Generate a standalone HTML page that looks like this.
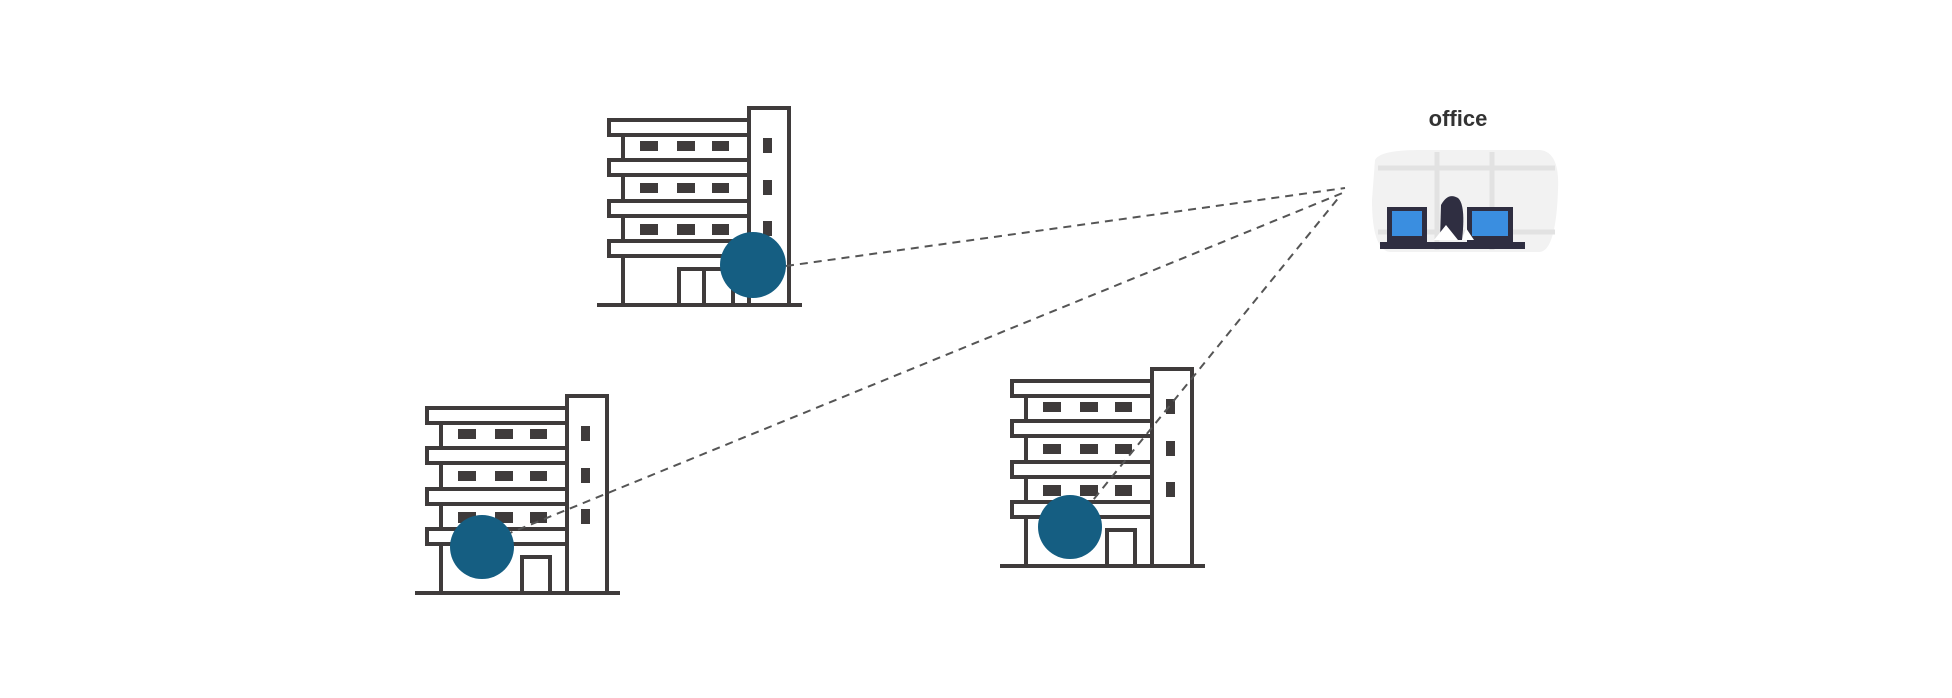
<!DOCTYPE html>
<html><head><meta charset="utf-8"><style>
html,body{margin:0;padding:0;background:#fff;}
svg{display:block}
</style></head><body>
<svg width="1952" height="698" viewBox="0 0 1952 698" xmlns="http://www.w3.org/2000/svg">
<defs>
<g id="bld" fill="none" stroke="#3f3b3b" stroke-width="4">
  <line x1="0" y1="199" x2="205" y2="199"/>
  <rect x="152" y="2" width="40" height="197" fill="#fff"/>
  <line x1="26" y1="29" x2="26" y2="199"/>
  <rect x="12" y="14" width="140" height="15" fill="#fff"/>
  <rect x="12" y="54" width="140" height="15" fill="#fff"/>
  <rect x="12" y="95" width="140" height="15" fill="#fff"/>
  <rect x="12" y="135" width="140" height="15" fill="#fff"/>
  <g fill="#3f3b3b" stroke="none">
    <rect x="43" y="35" width="18" height="10"/><rect x="80" y="35" width="18" height="10"/><rect x="115" y="35" width="17" height="10"/>
    <rect x="43" y="77" width="18" height="10"/><rect x="80" y="77" width="18" height="10"/><rect x="115" y="77" width="17" height="10"/>
    <rect x="43" y="118" width="18" height="11"/><rect x="80" y="118" width="18" height="11"/><rect x="115" y="118" width="17" height="11"/>
    <rect x="166" y="32" width="9" height="15"/><rect x="166" y="74" width="9" height="15"/><rect x="166" y="115" width="9" height="15"/>
  </g>
</g>
</defs>
<!-- building 1 -->
<g transform="translate(597,106)">
  <use href="#bld"/>
  <g fill="none" stroke="#3f3b3b" stroke-width="4"><rect x="82" y="163" width="54" height="36"/><line x1="107" y1="163" x2="107" y2="199"/></g>
</g>
<!-- building 2 -->
<g transform="translate(415,394)">
  <use href="#bld"/>
  <g fill="none" stroke="#3f3b3b" stroke-width="4"><rect x="107" y="163" width="28" height="36"/></g>
</g>
<!-- building 3 -->
<g transform="translate(1000,367)">
  <use href="#bld"/>
  <g fill="none" stroke="#3f3b3b" stroke-width="4"><rect x="107" y="163" width="28" height="36"/></g>
</g>
<!-- dashed lines -->
<g stroke="#555" stroke-width="2" stroke-dasharray="8,6" fill="none">
  <line x1="786" y1="266" x2="1345" y2="188"/>
  <line x1="505" y1="535" x2="1345" y2="192"/>
  <line x1="1085" y1="510" x2="1340" y2="196"/>
</g>
<!-- circles -->
<g fill="#155e82">
  <circle cx="753" cy="265" r="33"/>
  <circle cx="482" cy="547" r="32"/>
  <circle cx="1070" cy="527" r="32"/>
</g>
<!-- office -->
<text x="1458" y="126" font-family="Liberation Sans, sans-serif" font-weight="bold" font-size="22" fill="#333" text-anchor="middle">office</text>
<g>
  <path d="M1375 160 Q1380 150 1420 150 L1540 150 Q1560 152 1558 190 Q1556 250 1540 252 L1390 252 Q1372 250 1372 200 Z" fill="#f2f2f2"/>
  <g stroke="#e2e2e2" stroke-width="5">
    <line x1="1378" y1="168" x2="1555" y2="168"/>
    <line x1="1437" y1="152" x2="1437" y2="250"/>
    <line x1="1492" y1="152" x2="1492" y2="250"/>
    <line x1="1378" y1="232" x2="1555" y2="232"/>
  </g>
  <rect x="1387" y="207" width="40" height="35" fill="#2f2e41"/>
  <rect x="1392" y="211" width="30" height="25" fill="#3a8ee0"/>
  <rect x="1467" y="207" width="46" height="35" fill="#2f2e41"/>
  <rect x="1472" y="211" width="36" height="25" fill="#3a8ee0"/>
  <path d="M1440 240 L1441 205 Q1448 192 1458 198 Q1466 205 1462 240 Z" fill="#2f2e41"/>
  <path d="M1434 240 L1446 225 L1458 240 Z M1462 240 L1466 228 L1474 240 Z" fill="#fff"/>
  <rect x="1380" y="242" width="145" height="7" fill="#2f2e41"/>
</g>
</svg>
</body></html>
